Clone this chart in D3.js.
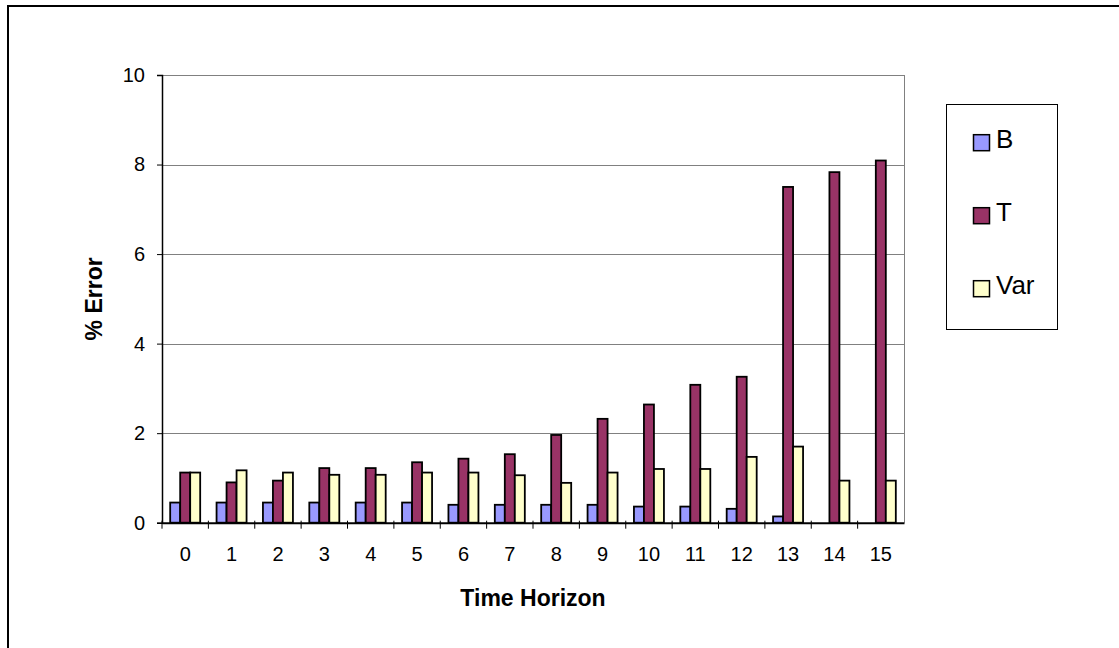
<!DOCTYPE html>
<html lang="en">
<head>
  <meta charset="UTF-8">
  <title>% Error by Time Horizon</title>
  <script src="https://d3js.org/d3.v7.min.js"></script>
  <style>
    body { margin: 0; background: #fff; }
    text { font-family: "Liberation Sans", Arial, sans-serif; fill: #000; }
  </style>
</head>
<body>
  <div id="chart"></div>
  <script>

    // data
    var horizons = ["0","1","2","3","4","5","6","7","8","9","10","11","12","13","14","15"];
    var seriesNames = ["B", "T", "Var"];
    var valuesB   = [0.45, 0.45, 0.45, 0.45, 0.45, 0.45, 0.40, 0.40, 0.40, 0.40, 0.36, 0.36, 0.31, 0.14, null, null];
    var valuesT   = [1.12, 0.90, 0.94, 1.22, 1.22, 1.35, 1.43, 1.53, 1.96, 2.32, 2.64, 3.08, 3.26, 7.50, 7.83, 8.09];
    var valuesVar = [1.12, 1.17, 1.12, 1.07, 1.07, 1.12, 1.12, 1.06, 0.89, 1.12, 1.20, 1.20, 1.47, 1.70, 0.94, 0.94];
    var yTicks = [0, 2, 4, 6, 8, 10];
    var colors = ["#9999ff", "#993366", "#ffffcc"];

    var W = 1119, H = 648;
    var plot = { left: 162, right: 904, top: 75, bottom: 522.7 };

    var svg = d3.select("#chart")
      .append("svg")
      .attr("width", W)
      .attr("height", H);

    // outer chart border (runs off the right and bottom)
    svg.append("rect")
      .attr("x", 8).attr("y", 6)
      .attr("width", W + 20).attr("height", H + 20)
      .attr("fill", "#fff")
      .attr("stroke", "#000")
      .attr("stroke-width", 2);

    var x0 = d3.scaleBand()
      .domain(horizons)
      .range([plot.left, plot.right]);

    var bw = x0.bandwidth();
    var x1 = d3.scaleBand()
      .domain(seriesNames)
      .range([(bw - 30) / 2, (bw + 30) / 2]);

    var y = d3.scaleLinear()
      .domain([0, 10])
      .range([plot.bottom, plot.top]);

    // gridlines
    svg.append("g")
      .selectAll("line")
      .data(yTicks.filter(function (d) { return d > 0; }))
      .enter()
      .append("line")
      .attr("x1", plot.left).attr("x2", plot.right)
      .attr("y1", function (d) { return Math.round(y(d)) + 0.5; })
      .attr("y2", function (d) { return Math.round(y(d)) + 0.5; })
      .attr("stroke", "#808080")
      .attr("stroke-width", 1);

    // right border of plot area
    svg.append("line")
      .attr("x1", plot.right + 0.5).attr("x2", plot.right + 0.5)
      .attr("y1", plot.top).attr("y2", plot.bottom)
      .attr("stroke", "#808080");

    // bars
    var allSeries = [valuesB, valuesT, valuesVar];
    seriesNames.forEach(function (name, si) {
      svg.append("g")
        .selectAll("rect")
        .data(allSeries[si].map(function (v, i) { return { h: horizons[i], v: v }; })
          .filter(function (d) { return d.v != null; }))
        .enter()
        .append("rect")
        .attr("x", function (d) { return x0(d.h) + x1(name); })
        .attr("y", function (d) { return y(d.v); })
        .attr("width", x1.bandwidth())
        .attr("height", function (d) { return y(0) - y(d.v); })
        .attr("fill", colors[si])
        .attr("stroke", "#000")
        .attr("stroke-width", 1.8);
    });

    // Y axis
    var yAxis = svg.append("g")
      .attr("transform", "translate(" + plot.left + ",0)")
      .call(d3.axisLeft(y).tickValues(yTicks).tickSize(5).tickPadding(12));
    yAxis.select(".domain").attr("stroke", "#000").attr("stroke-width", 1.5);
    yAxis.selectAll(".tick line").attr("stroke", "#000");
    yAxis.selectAll("text")
      .style("font-size", "20px")
      .style("font-family", "'Liberation Sans', Arial, sans-serif");

    // X axis: ticks at category boundaries
    var xAxis = svg.append("g")
      .attr("transform", "translate(0," + plot.bottom + ")")
      .call(d3.axisBottom(x0).tickSize(0).tickPadding(24).tickSizeOuter(0));
    xAxis.select(".domain").attr("stroke", "#000").attr("stroke-width", 2);
    xAxis.selectAll("text")
      .style("font-size", "20px")
      .style("font-family", "'Liberation Sans', Arial, sans-serif");

    svg.append("g")
      .selectAll("line")
      .data(horizons)
      .enter()
      .append("line")
      .attr("x1", function (d) { return x0(d); })
      .attr("x2", function (d) { return x0(d); })
      .attr("y1", plot.bottom - 2)
      .attr("y2", plot.bottom + 6)
      .attr("stroke", "#000");

    // axis titles
    svg.append("text")
      .attr("x", (plot.left + plot.right) / 2)
      .attr("y", 606)
      .attr("text-anchor", "middle")
      .style("font-size", "23px")
      .style("font-weight", "bold")
      .text("Time Horizon");

    svg.append("text")
      .attr("transform", "translate(102," + (plot.top + plot.bottom) / 2 + ") rotate(-90)")
      .attr("text-anchor", "middle")
      .style("font-size", "23px")
      .style("font-weight", "bold")
      .text("% Error");

    // legend
    var legend = svg.append("g");
    legend.append("rect")
      .attr("x", 946.5).attr("y", 104.5)
      .attr("width", 111).attr("height", 225)
      .attr("fill", "#fff")
      .attr("stroke", "#000")
      .attr("stroke-width", 1);

    var legendY = d3.scalePoint()
      .domain(seriesNames)
      .range([142.7, 288.7]);

    var item = legend.selectAll(".item")
      .data(seriesNames)
      .enter()
      .append("g")
      .attr("class", "item");

    item.append("rect")
      .attr("x", 973.5)
      .attr("y", function (d) { return legendY(d) - 8; })
      .attr("width", 16).attr("height", 16)
      .attr("fill", function (d, i) { return colors[i]; })
      .attr("stroke", "#000")
      .attr("stroke-width", 1.5);

    item.append("text")
      .attr("x", 996)
      .attr("y", function (d) { return legendY(d) + 5; })
      .style("font-size", "26px")
      .text(function (d) { return d; });

  </script>
</body>
</html>
